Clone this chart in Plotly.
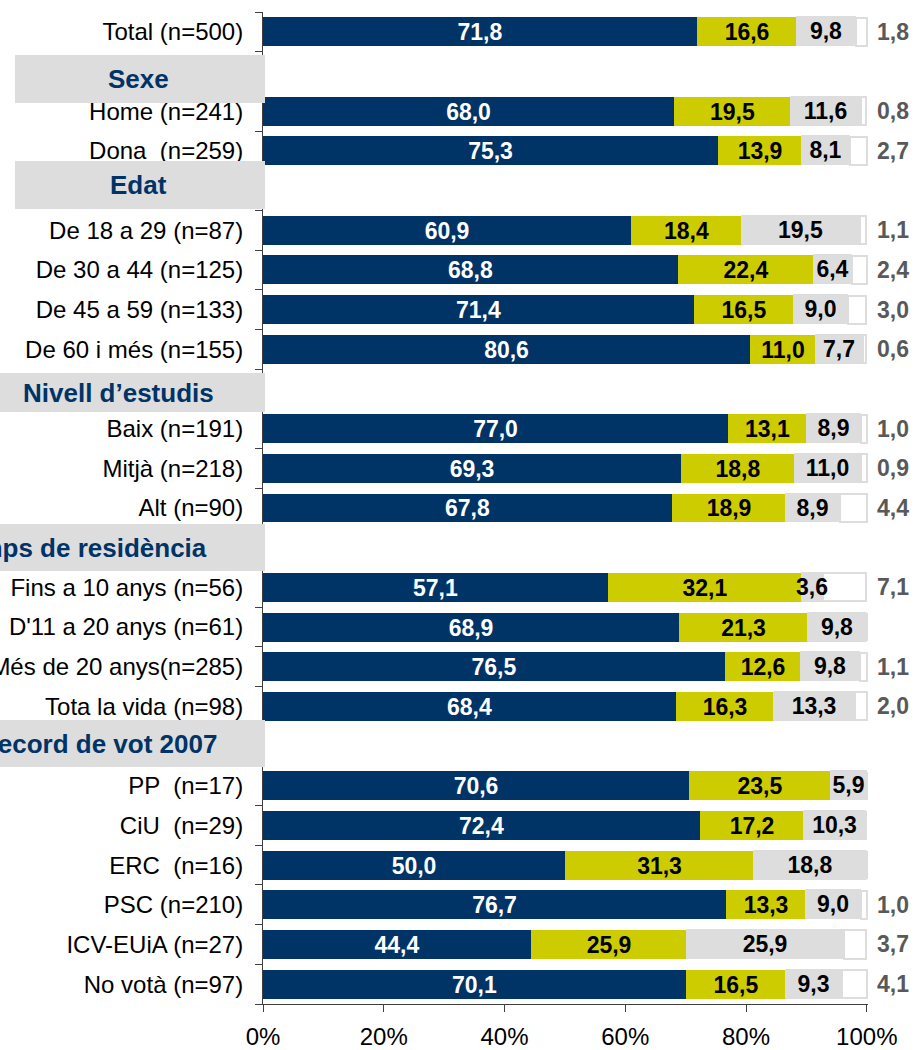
import plotly.graph_objects as go

# ---------------- data ----------------
categories = [
    "Total (n=500)",
    "Home (n=241)", "Dona  (n=259)",
    "De 18 a 29 (n=87)", "De 30 a 44 (n=125)", "De 45 a 59 (n=133)", "De 60 i més (n=155)",
    "Baix (n=191)", "Mitjà (n=218)", "Alt (n=90)",
    "Fins a 10 anys (n=56)", "D'11 a 20 anys (n=61)", "Més de 20 anys(n=285)", "Tota la vida (n=98)",
    "PP  (n=17)", "CiU  (n=29)", "ERC  (n=16)", "PSC (n=210)", "ICV-EUiA (n=27)", "No votà (n=97)",
]
header_names = ["Sexe", "Edat", "Nivell d’estudis", "Temps de residència", "Record de vot 2007"]
header_sizes = [2, 4, 3, 4, 6]   # number of categories under each header (after Total)

s1 = [71.8, 68.0, 75.3, 60.9, 68.8, 71.4, 80.6, 77.0, 69.3, 67.8,
      57.1, 68.9, 76.5, 68.4, 70.6, 72.4, 50.0, 76.7, 44.4, 70.1]
s2 = [16.6, 19.5, 13.9, 18.4, 22.4, 16.5, 11.0, 13.1, 18.8, 18.9,
      32.1, 21.3, 12.6, 16.3, 23.5, 17.2, 31.3, 13.3, 25.9, 16.5]
s3 = [9.8, 11.6, 8.1, 19.5, 6.4, 9.0, 7.7, 8.9, 11.0, 8.9,
      3.6, 9.8, 9.8, 13.3, 5.9, 10.3, 18.8, 9.0, 25.9, 9.3]
s4 = [1.8, 0.8, 2.7, 1.1, 2.4, 3.0, 0.6, 1.0, 0.9, 4.4,
      7.1, None, 1.1, 2.0, None, None, None, 1.0, 3.7, 4.1]

x_ticks = [0, 20, 40, 60, 80, 100]
x_ticklabels = ["0%", "20%", "40%", "60%", "80%", "100%"]

# ---------------- styling ----------------
NAVY = "#003366"
YELLOW = "#CCCC00"
GRAY = "#DDDDDD"
FONT = "Liberation Sans, Arial, sans-serif"
W, H = 916, 1050
ML, MT = 263, 12
PW, PH = 605, 992
MR, MB = W - ML - PW, H - MT - PH

# header box geometry in pixels (x0, x1, y0, y1, text right edge)
header_boxes = [(15, 265, 55, 103, 171), (15, 265, 161, 209, 169), (0, 265, 373, 412, 216),
                (0, 265, 524, 571, 209), (0, 265, 720, 767, 219)]


def px_x(px):
    return (px - ML) / PW


def px_y(py):
    return 1 - (py - MT) / PH


# slot positions (headers occupy their own slot)
pos = [0]
slot = 1
for n in header_sizes:
    slot += 1
    for _ in range(n):
        pos.append(slot)
        slot += 1
nslots = slot


def fmt(v):
    return "" if v is None else f"{v:.1f}".replace(".", ",")


base2 = list(s1)
base3 = [a + b for a, b in zip(s1, s2)]
base4 = [a + b + c for a, b, c in zip(s1, s2, s3)]

fig = go.Figure()
# white remainder segment first so the other segments' labels are drawn over it
fig.add_trace(go.Bar(
    y=pos, x=[0 if v is None else v for v in s4], base=base4, orientation="h",
    marker=dict(color="white", line=dict(color=GRAY, width=2)),
    width=0.71, textposition="none", hoverinfo="skip", showlegend=False,
))
series = [
    (s1, [0] * len(s1), NAVY, "white", dict(color=NAVY, width=0)),
    (s2, base2, YELLOW, "black", dict(color=YELLOW, width=0)),
    (s3, base3, GRAY, "black", dict(color=GRAY, width=1)),
]
for vals, base, col, tcol, line in series:
    fig.add_trace(go.Bar(
        y=pos, x=vals, base=base, orientation="h", marker=dict(color=col, line=line),
        width=0.73, text=[fmt(v) for v in vals], textposition="inside",
        insidetextanchor="middle", textangle=0,
        textfont=dict(family=FONT, size=23, color=tcol, weight="bold"),
        hoverinfo="skip", showlegend=False, cliponaxis=False,
    ))

shapes = []
annotations = []
for (x0, x1, y0, y1, xr), name in zip(header_boxes, header_names):
    shapes.append(dict(type="rect", xref="paper", yref="paper",
                       x0=px_x(x0), x1=px_x(x1), y0=px_y(y1), y1=px_y(y0),
                       fillcolor=GRAY, line=dict(width=0), layer="above"))
    annotations.append(dict(xref="paper", yref="paper", x=px_x(xr),
                            y=px_y((y0 + y1) / 2), xanchor="right", yanchor="middle",
                            text=name, showarrow=False,
                            font=dict(family=FONT, size=26, color=NAVY, weight="bold")))

for p, v in zip(pos, s4):
    if v is not None:
        annotations.append(dict(xref="x", yref="y", x=100, y=p, xanchor="left", yanchor="middle",
                                xshift=8, text=fmt(v), showarrow=False,
                                font=dict(family=FONT, size=23, color="#595959", weight="bold")))

fig.update_layout(
    width=W, height=H, barmode="overlay", bargap=0,
    margin=dict(l=ML, r=MR, t=MT, b=MB, pad=0, autoexpand=False),
    paper_bgcolor="white", plot_bgcolor="white",
    shapes=shapes, annotations=annotations,
    uniformtext=dict(minsize=23, mode="show"),
    xaxis=dict(range=[0, 100.2], tickvals=x_ticks, ticktext=x_ticklabels,
               showgrid=False, zeroline=False, showline=True, linecolor="#404040", linewidth=1,
               ticks="outside", ticklen=7, tickcolor="#404040", ticklabelstandoff=4,
               tickfont=dict(family=FONT, size=24, color="black")),
    yaxis=dict(range=[nslots - 0.5, -0.5], tickmode="array", tickvals=pos, ticktext=categories,
               showgrid=False, zeroline=False, showline=True, linecolor="#404040", linewidth=1,
               ticks="outside", ticklen=14, tickcolor="rgba(0,0,0,0)",
               tickfont=dict(family=FONT, size=24, color="black"),
               minor=dict(tickmode="array", tickvals=[i - 0.5 for i in range(nslots + 1)],
                          ticks="outside", ticklen=7, tickcolor="#404040", showgrid=False)),
)

fig.write_html("out.html", config={"displayModeBar": False},
               post_script="document.body.style.margin='0px';")
